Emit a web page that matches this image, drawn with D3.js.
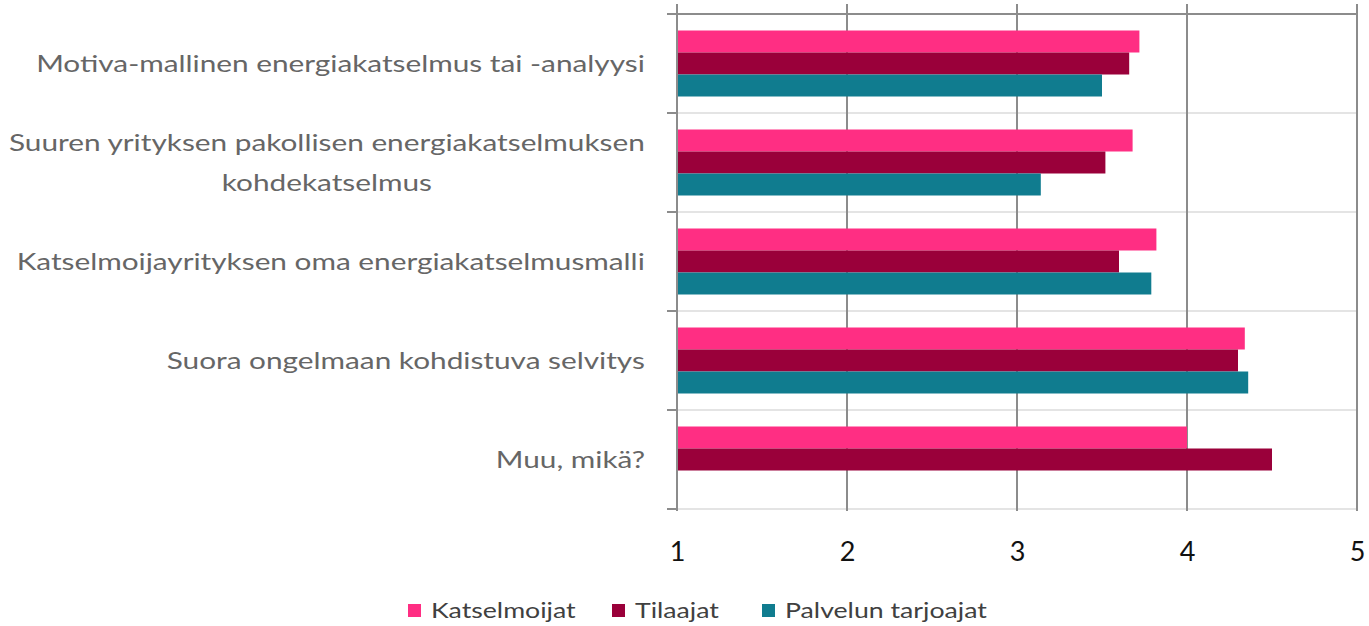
<!DOCTYPE html>
<html><head><meta charset="utf-8">
<script src="https://cdn.jsdelivr.net/npm/d3@7"></script>
<style>
html,body{margin:0;padding:0;background:#fff;}
svg{display:block;font-family:Lato, "Open Sans", sans-serif;}
</style></head>
<body>
<svg id="chart" width="1369" height="626"></svg>
<script>
const categories = [
  ["Motiva-mallinen energiakatselmus tai -analyysi"],
  ["Suuren yrityksen pakollisen energiakatselmuksen", "kohdekatselmus"],
  ["Katselmoijayrityksen oma energiakatselmusmalli"],
  ["Suora ongelmaan kohdistuva selvitys"],
  ["Muu, mikä?"]
];
const seriesNames = ["Katselmoijat", "Tilaajat", "Palvelun tarjoajat"];
const katselmoijat = [3.72, 3.68, 3.82, 4.34, 4.0];
const tilaajat = [3.66, 3.52, 3.60, 4.30, 4.5];
const palvelun = [3.50, 3.14, 3.79, 4.36, 1.0];
const xTicks = [1, 2, 3, 4, 5];
const colors = ["#FF2E83", "#9A003A", "#107C8F"];

(function () {
const values = [katselmoijat, tilaajat, palvelun];
const svg = d3.select("#chart");
const mLeft = 677, mRight = 1357, mTop = 14, mBottom = 509;

const x = d3.scaleLinear().domain([1, 5]).range([mLeft, mRight]);
const y = d3.scaleBand().domain(d3.range(categories.length)).range([mTop, mBottom]).paddingInner(0).paddingOuter(0);
const inner = d3.scaleBand().domain(d3.range(seriesNames.length)).range([0, y.bandwidth()]).paddingInner(0).paddingOuter(0.75);

// light category separators
svg.append("g").selectAll("line").data(d3.range(1, categories.length + 1)).join("line")
  .attr("x1", mLeft).attr("x2", mRight)
  .attr("y1", i => y(i - 1) + y.bandwidth()).attr("y2", i => y(i - 1) + y.bandwidth())
  .attr("stroke", "#e4e4e4").attr("stroke-width", 2);

// vertical gridlines
svg.append("g").selectAll("line").data(xTicks).join("line")
  .attr("x1", d => x(d)).attr("x2", d => x(d))
  .attr("y1", 4).attr("y2", mBottom + 2)
  .attr("stroke", "#8c8c8c").attr("stroke-width", 2);

// bars
const groups = svg.append("g").selectAll("g").data(values).join("g")
  .attr("fill", (d, i) => colors[i]);
groups.each(function(vals, si) {
  d3.select(this).selectAll("rect").data(vals).join("rect")
    .attr("x", x(1))
    .attr("y", (d, ci) => y(ci) + inner(si))
    .attr("width", d => Math.max(1, x(d) - x(1)))
    .attr("height", inner.bandwidth());
});

// top axis line
svg.append("line").attr("x1", mLeft - 10).attr("x2", mRight).attr("y1", mTop).attr("y2", mTop)
  .attr("stroke", "#8c8c8c").attr("stroke-width", 2);
// left axis ticks
svg.append("g").selectAll("line").data(d3.range(1, categories.length + 1)).join("line")
  .attr("x1", mLeft - 10).attr("x2", mLeft)
  .attr("y1", i => y(i - 1) + y.bandwidth()).attr("y2", i => y(i - 1) + y.bandwidth())
  .attr("stroke", "#8c8c8c").attr("stroke-width", 2);
svg.append("line").attr("x1", mLeft).attr("x2", mLeft).attr("y1", 4).attr("y2", mBottom + 2)
  .attr("stroke", "#8c8c8c").attr("stroke-width", 2);

// horizontal stretch factor so text widths match the reference
const labFont = 24;
const probe = svg.append("text").attr("font-size", labFont).text(categories[0][0]);
const stretch = 609 / probe.node().getComputedTextLength();
probe.remove();

function stretchedText(g, str, px, py, anchor) {
  return g.append("text").attr("transform", `translate(${px},${py}) scale(${stretch},1)`)
    .attr("text-anchor", anchor).attr("dy", "0.35em").text(str);
}

// x tick labels
const xAxis = d3.axisBottom(x).tickValues(xTicks).tickFormat(d3.format("d")).tickSize(0).tickPadding(0);
const xa = svg.append("g").attr("transform", `translate(0,${mBottom + 43})`).call(xAxis);
xa.select(".domain").remove();
xa.selectAll("text").attr("font-size", 27).attr("fill", "#111").attr("font-family", "Lato, sans-serif")
  .attr("dy", "0.35em").attr("y", 0);

// category labels
const labelG = svg.append("g").attr("font-size", labFont).attr("fill", "#666");
const labelRight = 645;
const lineH = 40;
categories.forEach((lines, ci) => {
  const cy = y(ci) + y.bandwidth() / 2;
  const probeW = d3.max(lines, t => {
    const p = labelG.append("text").text(t);
    const w = p.node().getComputedTextLength();
    p.remove();
    return w;
  }) * stretch;
  lines.forEach((t, li) => stretchedText(labelG, t, labelRight - probeW / 2,
    cy + (li - (lines.length - 1) / 2) * lineH, "middle"));
});

// legend
const legendX = [408, 612, 762];
const legend = svg.append("g").attr("font-size", 21.5).attr("fill", "#404040");
seriesNames.forEach((n, i) => {
  legend.append("rect").attr("x", legendX[i]).attr("y", 604).attr("width", 13).attr("height", 13).attr("fill", colors[i]);
  stretchedText(legend, n, legendX[i] + 23, 610, "start");
});
})();
</script>
</body></html>
